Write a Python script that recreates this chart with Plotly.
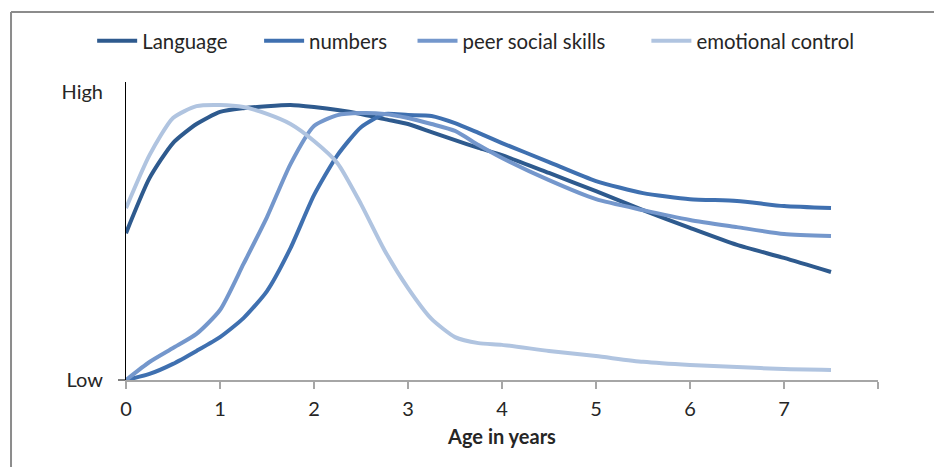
import plotly.graph_objects as go

ages = [0, 0.25, 0.5, 0.75, 1, 1.25, 1.5, 1.75, 2, 2.25, 2.5, 2.75, 3, 3.25, 3.5, 3.75, 4,
        4.5, 5, 5.5, 6, 6.5, 7, 7.5]

language = [51.0, 70.1, 82.3, 88.9, 93.1, 94.4, 95.1, 95.5, 94.8, 93.8, 92.4, 90.6, 88.9, 86.1,
            83.3, 80.6, 78.1, 71.9, 65.6, 59.0, 52.8, 46.9, 42.4, 37.5]
numbers = [0, 2.1, 5.6, 10.1, 14.9, 21.5, 30.9, 45.8, 64.2, 78.1, 87.8, 92.4, 92.0, 91.7,
           89.2, 85.8, 82.3, 75.7, 69.1, 64.9, 62.8, 62.2, 60.4, 59.7]
peer_social = [0, 6.25, 11.1, 16.0, 24.3, 40.3, 56.6, 75.0, 88.2, 92.0, 92.7, 92.4, 91.0, 88.9,
               86.5, 81.6, 77.1, 69.4, 62.8, 59.0, 55.6, 53.1, 50.7, 50.0]
emotional = [59.7, 78.1, 91.0, 95.1, 95.5, 94.8, 92.4, 88.9, 83.0, 75.3, 61.1, 45.1, 31.9, 21.2,
             14.9, 12.8, 12.2, 10.1, 8.3, 6.3, 5.2, 4.5, 3.8, 3.5]

series_names = ["Language", "numbers", "peer social skills", "emotional control"]
series_values = [language, numbers, peer_social, emotional]
series_colors = ["#2E5A8E", "#3F70B0", "#7497CC", "#B0C4E0"]

x_tickvals = [0, 1, 2, 3, 4, 5, 6, 7, 8]
x_ticktext = ["0", "1", "2", "3", "4", "5", "6", "7", ""]
y_tickvals = [0, 100]
y_ticktext = ["Low", "High"]

FONT = "Lato"
FS = 20
TXT = "#262626"

# legend anchor positions (paper fraction of plot width)
legend_x = [-0.045, 0.177, 0.381, 0.692]
legend_keys = ["legend", "legend2", "legend3", "legend4"]

fig = go.Figure()
for name, vals, col, lk in zip(series_names, series_values, series_colors, legend_keys):
    fig.add_trace(go.Scatter(x=ages, y=vals, name=name, mode="lines", legend=lk,
                             line=dict(color=col, width=4, shape="spline", smoothing=0.6)))

legend_common = dict(orientation="h", xanchor="left", y=1.1376, yanchor="middle",
                     font=dict(family=FONT, size=20.4, color=TXT), itemwidth=40,
                     bgcolor="rgba(0,0,0,0)")
layout_legends = {lk: dict(x=lx, **legend_common) for lk, lx in zip(legend_keys, legend_x)}

fig.update_layout(
    width=934, height=467,
    margin=dict(l=126, r=56, t=82, b=87),
    paper_bgcolor="white", plot_bgcolor="white",
    font=dict(family=FONT, size=FS, color=TXT),
    showlegend=True,
    xaxis=dict(range=[0, 8], tickvals=x_tickvals, ticktext=x_ticktext,
               showline=True, linecolor="#A6A6A6", linewidth=1.5,
               ticks="outside", ticklen=7, tickcolor="#A6A6A6", tickwidth=1.5,
               showgrid=False, zeroline=False, ticklabelstandoff=3,
               title=dict(text="<b>Age in years</b>", font=dict(family=FONT, size=FS, color=TXT),
                          standoff=11),
               tickfont=dict(family=FONT, size=FS, color=TXT)),
    yaxis=dict(range=[0, 103.5], tickvals=y_tickvals, ticktext=y_ticktext,
               showline=True, linecolor="#000000", linewidth=1,
               ticks="", showgrid=False, zeroline=False, ticklabelstandoff=18,
               minor=dict(tickvals=[0], ticks="outside", ticklen=7, tickcolor="#7F7F7F", tickwidth=1.5),
               tickfont=dict(family=FONT, size=FS, color=TXT)),
    shapes=[
        dict(type="line", xref="paper", yref="paper", x0=-0.1529, x1=-0.1529, y0=-0.31, y1=1.2349,
             line=dict(color="#8C8C8C", width=2)),
        dict(type="line", xref="paper", yref="paper", x0=-0.1529, x1=1.09, y0=1.2349, y1=1.2349,
             line=dict(color="#8C8C8C", width=2)),
    ],
    **layout_legends,
)

fig.write_html("out.html", config={"displayModeBar": False},
               post_script="document.body.style.margin='0';")
